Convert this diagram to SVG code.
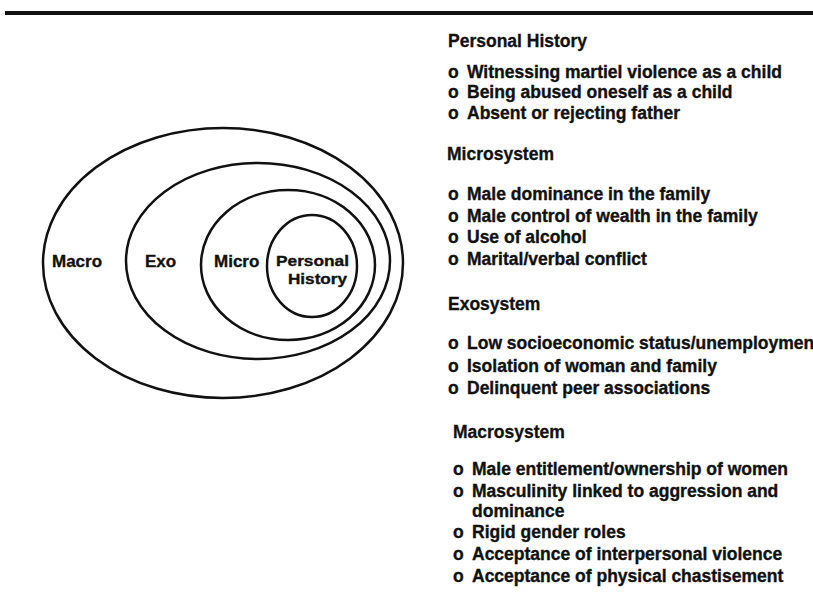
<svg xmlns="http://www.w3.org/2000/svg" width="813" height="605" viewBox="0 0 813 605">
<style>
.ring{fill:none;stroke:#111;stroke-width:2.5}
.lbl{font-family:"Liberation Sans",Arial,sans-serif;font-weight:bold;font-size:17px;fill:#111;stroke:#111;stroke-width:0.35}
.ph{font-family:"Liberation Sans",Arial,sans-serif;font-weight:bold;font-size:15px;fill:#111;stroke:#111;stroke-width:0.35}
.hd{font-family:"Liberation Sans",Arial,sans-serif;font-weight:bold;font-size:17.5px;fill:#111;stroke:#111;stroke-width:0.3}
.it{font-family:"Liberation Sans",Arial,sans-serif;font-weight:bold;font-size:17.5px;fill:#111;stroke:#111;stroke-width:0.35}
</style>
<rect x="0" y="0" width="813" height="605" fill="#fff"/>
<line x1="5" y1="13" x2="813" y2="13" stroke="#111" stroke-width="4"/>
<g id="macro">
<ellipse class="ring" cx="223" cy="263" rx="180" ry="135"/>
<text class="lbl" x="52" y="267">Macro</text>
</g>
<g id="exo">
<ellipse class="ring" cx="258" cy="261" rx="132" ry="98"/>
<text class="lbl" x="145" y="267">Exo</text>
</g>
<g id="micro">
<ellipse class="ring" cx="288" cy="265" rx="87" ry="75"/>
<text class="lbl" x="214" y="267">Micro</text>
</g>
<g id="personal">
<ellipse class="ring" cx="312" cy="266" rx="45" ry="51"/>
<text class="ph" x="276" y="266" textLength="73" lengthAdjust="spacingAndGlyphs">Personal</text>
<text class="ph" x="288" y="284" textLength="59" lengthAdjust="spacingAndGlyphs">History</text>
</g>
<g id="list">
<text class="hd" x="448" y="47">Personal History</text>
<text class="it" x="448" y="78">o</text><text class="it" x="467" y="78">Witnessing martiel violence as a child</text>
<text class="it" x="448" y="98">o</text><text class="it" x="467" y="98">Being abused oneself as a child</text>
<text class="it" x="448" y="119">o</text><text class="it" x="467" y="119">Absent or rejecting father</text>
<text class="hd" x="447" y="160">Microsystem</text>
<text class="it" x="448" y="200">o</text><text class="it" x="467" y="200">Male dominance in the family</text>
<text class="it" x="448" y="222">o</text><text class="it" x="467" y="222">Male control of wealth in the family</text>
<text class="it" x="448" y="243">o</text><text class="it" x="467" y="243">Use of alcohol</text>
<text class="it" x="448" y="265">o</text><text class="it" x="467" y="265">Marital/verbal conflict</text>
<text class="hd" x="448" y="310">Exosystem</text>
<text class="it" x="448" y="349">o</text><text class="it" x="467" y="349">Low socioeconomic status/unemploymen</text>
<text class="it" x="448" y="372">o</text><text class="it" x="467" y="372">Isolation of woman and family</text>
<text class="it" x="448" y="394">o</text><text class="it" x="467" y="394">Delinquent peer associations</text>
<text class="hd" x="453" y="438">Macrosystem</text>
<text class="it" x="453" y="475">o</text><text class="it" x="472" y="475">Male entitlement/ownership of women</text>
<text class="it" x="453" y="497">o</text><text class="it" x="472" y="497">Masculinity linked to aggression and</text>
<text class="it" x="472" y="517">dominance</text>
<text class="it" x="453" y="538">o</text><text class="it" x="472" y="538">Rigid gender roles</text>
<text class="it" x="453" y="560">o</text><text class="it" x="472" y="560">Acceptance of interpersonal violence</text>
<text class="it" x="453" y="582">o</text><text class="it" x="472" y="582">Acceptance of physical chastisement</text>
</g>
</svg>
